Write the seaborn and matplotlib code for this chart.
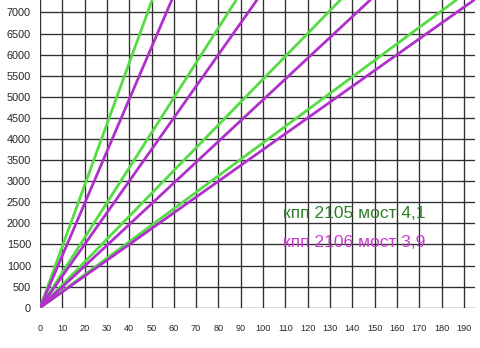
import matplotlib
matplotlib.use("Agg")
import matplotlib.pyplot as plt
import seaborn as sns
import pandas as pd

# data: each line goes from the origin to (speed at top rpm, top rpm)
rpm_top = 7300
gears = ["1", "2", "3", "4"]
speed_2105 = [50.3, 88.0, 134.7, 186.7]   # кпп 2105 мост 4,1
speed_2106 = [59.1, 97.3, 148.1, 194.7]   # кпп 2106 мост 3,9
label_2105 = "кпп 2105 мост 4,1"
label_2106 = "кпп 2106 мост 3,9"
x_ticks = list(range(0, 191, 10))
y_ticks = list(range(0, 7001, 500))

rows = []
for name, speeds in (("2105", speed_2105), ("2106", speed_2106)):
    for g, s in zip(gears, speeds):
        rows.append({"box": name, "gear": g, "line": name + g, "speed": 0.0, "rpm": 0.0})
        rows.append({"box": name, "gear": g, "line": name + g, "speed": s, "rpm": rpm_top})
df = pd.DataFrame(rows)

sns.set_style("white")
plt.rcParams["font.family"] = ["Liberation Sans", "DejaVu Sans"]

fig = plt.figure(figsize=(4.8, 3.48), dpi=100)
ax = fig.add_axes([40 / 480, 40.3 / 348, 435 / 480, 307.7 / 348])

grid_c = "#2e2e2e"
for v in x_ticks:
    ax.axvline(v, color=grid_c, lw=0.95, zorder=1)
for v in y_ticks:
    ax.axhline(v, color=grid_c, lw=0.95, zorder=1)

palette = {"2105": "#55dc44", "2106": "#b030cc"}
sns.lineplot(data=df, x="speed", y="rpm", hue="box", units="line", estimator=None,
             palette=palette, lw=2.0, legend=False, ax=ax, zorder=3, sort=False)

ax.set_xlim(0, 195)
ax.set_ylim(0, 7296)
ax.set_xticks(x_ticks)
ax.set_yticks(y_ticks)
ax.set_xticklabels([str(v) for v in x_ticks], fontsize=6.6)
ax.set_yticklabels([str(v) for v in y_ticks], fontsize=7.8)
ax.tick_params(axis="both", length=3, width=0.95, color=grid_c)
ax.tick_params(axis="x", pad=9)
ax.tick_params(axis="y", pad=3.5)
ax.set_xlabel("")
ax.set_ylabel("")
for sp in ax.spines.values():
    sp.set_visible(False)

ax.text(109, 2230, label_2105, color="#2f7d2a", fontsize=12.5, ha="left", va="center", zorder=4)
ax.text(109, 1540, label_2106, color="#c93ad0", fontsize=12.5, ha="left", va="center", zorder=4)

fig.savefig("out.png", dpi=100)
